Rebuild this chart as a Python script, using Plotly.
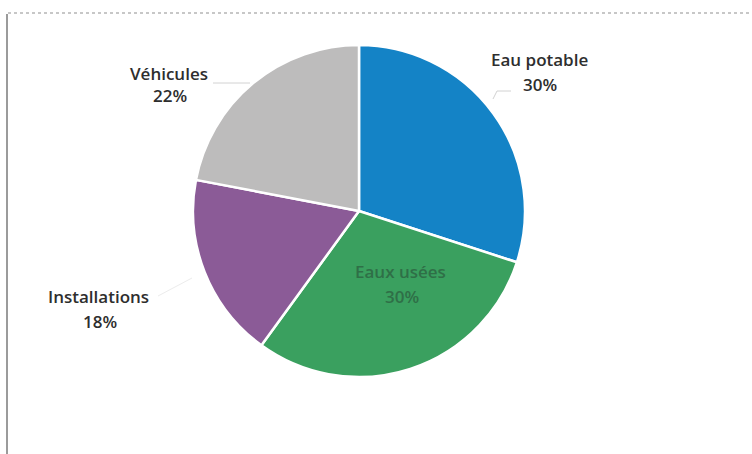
import plotly.graph_objects as go

# Répartition par poste
labels = ["Eau potable", "Eaux usées", "Installations", "Véhicules"]
values = [30, 30, 18, 22]
colors = ["#1483c6", "#3aa05f", "#8b5b97", "#bdbcbc"]

W, H = 752, 454
cx, cy, r = 359, 211, 166  # pie centre and radius, in pixels


def px(x):
    return x / W


def py(y):
    return 1 - y / H


fig = go.Figure(
    go.Pie(
        labels=labels,
        values=values,
        sort=False,
        direction="clockwise",
        rotation=0,
        marker=dict(colors=colors, line=dict(color="white", width=2.5)),
        textinfo="none",
        hoverinfo="label+percent",
        domain=dict(x=[px(cx - r), px(cx + r)], y=[py(cy + r), py(cy - r)]),
        showlegend=False,
    )
)

# Label placement: (name centre, value centre, text colour)
label_pos = {
    "Eau potable": ((539, 59), (540, 84), "#2e2e2e"),
    "Eaux usées": ((400, 271), (402, 296), "#2f6f47"),
    "Installations": ((98, 296), (100, 321), "#2e2e2e"),
    "Véhicules": ((169, 73), (170, 96), "#2e2e2e"),
}

annotations = []
for lab, val in zip(labels, values):
    (x1, y1), (x2, y2), col = label_pos[lab]
    for (x, y), txt in (((x1, y1), lab), ((x2, y2), f"{val}%")):
        annotations.append(
            dict(
                x=px(x), y=py(y), xref="paper", yref="paper",
                xanchor="center", yanchor="middle",
                text=txt,
                showarrow=False,
                font=dict(family="Open Sans", size=17, color=col, weight=600),
            )
        )

# Leader lines from labels to slices: (points, colour)
leaders = [
    ([(493, 99), (497, 91), (511, 91)], "#d2d2d2"),
    ([(213, 83), (250, 83)], "#d2d2d2"),
    ([(158, 296), (192, 278)], "#ececec"),
]
shapes = []
for pts, lc in leaders:
    for (x0, y0), (x1, y1) in zip(pts[:-1], pts[1:]):
        shapes.append(dict(type="line", xref="paper", yref="paper",
                           x0=px(x0), y0=py(y0), x1=px(x1), y1=py(y1),
                           line=dict(color=lc, width=1)))

# Frame edges of the sheet
shapes.append(dict(type="line", xref="paper", yref="paper",
                   x0=px(7), y0=py(14), x1=px(7), y1=0,
                   line=dict(color="#7a7a7a", width=1.5)))
shapes.append(dict(type="line", xref="paper", yref="paper",
                   x0=px(8), y0=py(13), x1=px(750), y1=py(13),
                   line=dict(color="#b5b5b5", width=1.5, dash="dot")))

fig.update_layout(
    width=W, height=H,
    margin=dict(l=0, r=0, t=0, b=0),
    paper_bgcolor="white",
    plot_bgcolor="white",
    annotations=annotations,
    shapes=shapes,
)

fig.write_html("out.html")
